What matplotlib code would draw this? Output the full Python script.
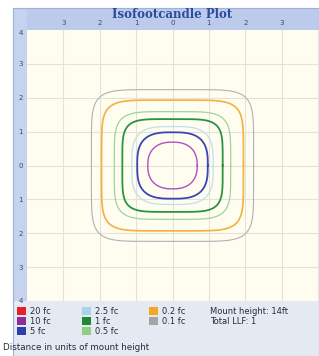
import numpy as np
import matplotlib
matplotlib.use("Agg")
import matplotlib.pyplot as plt
from matplotlib.patches import Rectangle

# ---- data ----
levels = ["20 fc", "10 fc", "5 fc", "2.5 fc", "1 fc", "0.5 fc", "0.2 fc", "0.1 fc"]
level_colors = ["#e8202a", "#8e2e9c", "#2e3fae", "#a9d3e8", "#1e8a34", "#93cc85", "#f5a623", "#a5a5a5"]
# contour half-width / half-height (units of mount height), None = not present
half_w = [None, 0.68, 0.97, 1.12, 1.38, 1.60, 1.95, 2.23]
half_h = [None, 0.69, 0.98, 1.15, 1.37, 1.59, 1.93, 2.24]
squareness = [None, 2.4, 3.0, 3.4, 5.0, 5.0, 6.0, 6.5]
line_w = [1.2, 1.0, 1.3, 0.9, 1.3, 0.9, 1.2, 0.8]
contour_colors = ["#e8202a", "#b050c0", "#3a46b8", "#bfe0ee", "#2a9440", "#a0d49a", "#f5b040", "#b0b0b8"]
x_ticks = [-3, -2, -1, 0, 1, 2, 3]
y_ticks = [-3, -2, -1, 0, 1, 2, 3]
title = "Isofootcandle Plot"
info = ["Mount height: 14ft", "Total LLF: 1"]
footer = "Distance in units of mount height"

W, H = 319, 356
fig = plt.figure(figsize=(W / 100, H / 100), dpi=100)
fig.patch.set_facecolor("white")


def px(x, y):
    return x / W, 1 - y / H


def rect(x0, y0, x1, y1, z=0, **kw):
    (fx0, fy1) = px(x0, y1)
    r = Rectangle((fx0, fy1), (x1 - x0) / W, (y1 - y0) / H,
                  transform=fig.transFigure, zorder=z, **kw)
    fig.patches.append(r)
    return r


# panel backgrounds
rect(13, 8, 319, 356, z=-3, facecolor="#e5e9f2", edgecolor="none")
rect(13, 8, 319, 30, z=-2, facecolor="#bccbec", edgecolor="none")
rect(13, 8, 27, 301, z=-2, facecolor="#c6d3ef", edgecolor="none")
rect(13, 8, 319, 356, z=5, facecolor="none", edgecolor="#9fb1d6", linewidth=0.8)

ax = fig.add_axes([27 / W, 1 - 301 / H, (318 - 27) / W, (301 - 30) / H])
ax.set_zorder(1)
ax.set_facecolor("#fefdf0")
ax.set_xlim(-4, 4)
ax.set_ylim(4, -4)
for s in ax.spines.values():
    s.set_visible(False)

for v in range(-3, 4):
    ax.axvline(v, color="#e6e3d6", lw=0.8, zorder=1)
    ax.axhline(v, color="#e6e3d6", lw=0.8, zorder=1)

t = np.linspace(0, 2 * np.pi, 400)
for a, b, n, c, lw in zip(half_w, half_h, squareness, contour_colors, line_w):
    if a is None:
        continue
    ct, st = np.cos(t), np.sin(t)
    xs = a * np.sign(ct) * np.abs(ct) ** (2 / n)
    ys = b * np.sign(st) * np.abs(st) ** (2 / n)
    ax.plot(xs, ys, color=c, lw=lw, zorder=3)

ax.set_xticks(x_ticks)
ax.set_xticklabels([str(abs(v)) for v in x_ticks])
ax.set_yticks(y_ticks)
ax.set_yticklabels([str(abs(v)) for v in y_ticks])
ax.xaxis.tick_top()
ax.tick_params(axis="both", length=0, labelsize=5, labelcolor="#3a4a6a")
ax.tick_params(axis="x", pad=3)
ax.tick_params(axis="y", pad=3)

fig.text(*px(21, 33), "4", fontsize=5, color="#3a4a6a", ha="center", va="center", zorder=6)
fig.text(*px(21, 301), "4", fontsize=5, color="#3a4a6a", ha="center", va="center", zorder=6)

fig.text(*px(172, 14), title, fontsize=8.5, fontweight="bold", color="#2b4c9c",
         ha="center", va="center", family="DejaVu Serif", zorder=6)

# legend
cols_x = [17, 82, 149]
rows_y = [311, 321, 331]
for i, (lab, col) in enumerate(zip(levels, level_colors)):
    cx = cols_x[i // 3]
    ry = rows_y[i % 3]
    rect(cx, ry - 4, cx + 9, ry + 4, z=6, facecolor=col, edgecolor="none")
    fig.text(*px(cx + 13, ry), lab, fontsize=6, color="#2a2a3a", ha="left", va="center", zorder=6)
for i, s in enumerate(info):
    fig.text(*px(210, rows_y[i]), s, fontsize=6, color="#2a2a3a", ha="left", va="center", zorder=6)
fig.text(*px(3, 347), footer, fontsize=6.3, color="#2a2a3a", ha="left", va="center", zorder=6)

fig.savefig("out.png", dpi=100)
